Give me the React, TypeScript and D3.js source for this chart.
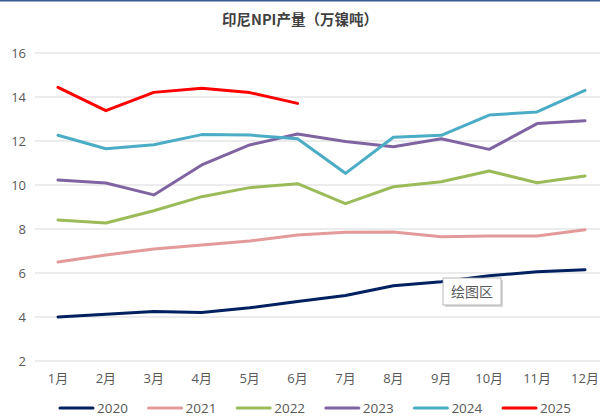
import React, { useEffect, useRef } from 'react';
import * as d3 from 'd3';

const months = ['1月', '2月', '3月', '4月', '5月', '6月', '7月', '8月', '9月', '10月', '11月', '12月'];
const yTicks = [2, 4, 6, 8, 10, 12, 14, 16];

const s2020 = [4.0, 4.13, 4.25, 4.2, 4.42, 4.7, 4.98, 5.42, 5.6, 5.87, 6.06, 6.15];
const s2021 = [6.5, 6.82, 7.09, 7.27, 7.45, 7.73, 7.85, 7.86, 7.65, 7.68, 7.68, 7.97];
const s2022 = [8.41, 8.27, 8.83, 9.47, 9.88, 10.06, 9.15, 9.92, 10.15, 10.64, 10.1, 10.41];
const s2023 = [10.23, 10.09, 9.55, 10.91, 11.82, 12.32, 11.98, 11.74, 12.1, 11.62, 12.79, 12.92];
const s2024 = [12.26, 11.65, 11.83, 12.29, 12.27, 12.1, 10.53, 12.17, 12.26, 13.18, 13.32, 14.3];
const s2025 = [14.44, 13.38, 14.21, 14.4, 14.2, 13.71];

const seriesNames = ['2020', '2021', '2022', '2023', '2024', '2025'];
const seriesValues = [s2020, s2021, s2022, s2023, s2024, s2025];
const seriesColors = ['#002060', '#e39a9b', '#9bbb59', '#8064a2', '#4bacc6', '#ff0000'];

const FONT = '"Open Sans", "Noto Sans CJK SC", sans-serif';

const App = () => {
  const ref = useRef<SVGSVGElement>(null);

  useEffect(() => {
    if (!ref.current) return;
    const svg = d3.select(ref.current);
    svg.selectAll('*').remove();

    const width = 600;

    // top border
    svg.append('rect').attr('x', 0).attr('y', 0).attr('width', width).attr('height', 1.5).attr('fill', '#3b5b8e');

    // title
    svg.append('text')
      .attr('x', 300).attr('y', 25)
      .attr('text-anchor', 'middle')
      .attr('font-family', '"Noto Sans CJK SC", sans-serif')
      .attr('font-size', 14.5)
      .attr('font-weight', 600)
      .attr('fill', '#404040')
      .text('印尼NPI产量（万镍吨）');

    const x = d3.scalePoint<string>().domain(months).range([58, 585]);
    const y = d3.scaleLinear().domain([2, 16]).range([361, 53]);

    // gridlines
    svg.append('g')
      .selectAll('line')
      .data(yTicks)
      .enter()
      .append('line')
      .attr('x1', 35).attr('x2', width)
      .attr('y1', d => y(d)).attr('y2', d => y(d))
      .attr('stroke', '#d9d9d9')
      .attr('stroke-width', 1);

    // y labels
    svg.append('g')
      .selectAll('text')
      .data(yTicks)
      .enter()
      .append('text')
      .attr('x', 26).attr('y', d => y(d) + 4.5)
      .attr('text-anchor', 'end')
      .attr('font-family', FONT)
      .attr('font-size', 13)
      .attr('fill', '#595959')
      .text(d => d);

    // x labels
    svg.append('g')
      .selectAll('text')
      .data(months)
      .enter()
      .append('text')
      .attr('x', d => x(d) as number).attr('y', 383)
      .attr('text-anchor', 'middle')
      .attr('font-family', FONT)
      .attr('font-size', 13)
      .attr('fill', '#595959')
      .text(d => d);

    // lines
    const line = d3.line<number>()
      .x((_, i) => x(months[i]) as number)
      .y(d => y(d));

    svg.append('g')
      .selectAll('path')
      .data(seriesValues)
      .enter()
      .append('path')
      .attr('d', d => line(d))
      .attr('fill', 'none')
      .attr('stroke', (_, i) => seriesColors[i])
      .attr('stroke-width', 3)
      .attr('stroke-linejoin', 'round')
      .attr('stroke-linecap', 'round');

    // legend
    const legend = svg.append('g')
      .selectAll('g')
      .data(seriesNames)
      .enter()
      .append('g')
      .attr('transform', (_, i) => `translate(${60 + i * 88.6},408)`);
    legend.append('line')
      .attr('x1', 0).attr('x2', 33).attr('y1', 0).attr('y2', 0)
      .attr('stroke', (_, i) => seriesColors[i])
      .attr('stroke-width', 3)
      .attr('stroke-linecap', 'round');
    legend.append('text')
      .attr('x', 37).attr('y', 5)
      .attr('font-family', FONT)
      .attr('font-size', 13.5)
      .attr('fill', '#595959')
      .text(d => d);

    // "绘图区" tooltip box
    const tip = svg.append('g').attr('transform', 'translate(443,278)');
    tip.append('rect').attr('x', 2).attr('y', 2).attr('width', 58).attr('height', 27).attr('fill', '#bfbfbf').attr('opacity', 0.6);
    tip.append('rect').attr('x', 0).attr('y', 0).attr('width', 58).attr('height', 27)
      .attr('fill', '#fff').attr('stroke', '#a6a6a6').attr('stroke-width', 0.8);
    tip.append('text')
      .attr('x', 29).attr('y', 19)
      .attr('text-anchor', 'middle')
      .attr('font-family', '"Noto Sans CJK SC", sans-serif')
      .attr('font-size', 14)
      .attr('fill', '#595959')
      .text('绘图区');
  }, []);

  return (
    <svg
      ref={ref}
      width={600}
      height={417}
      style={{ position: 'absolute', left: 0, top: 0, background: '#fff' }}
    />
  );
};

export default App;
